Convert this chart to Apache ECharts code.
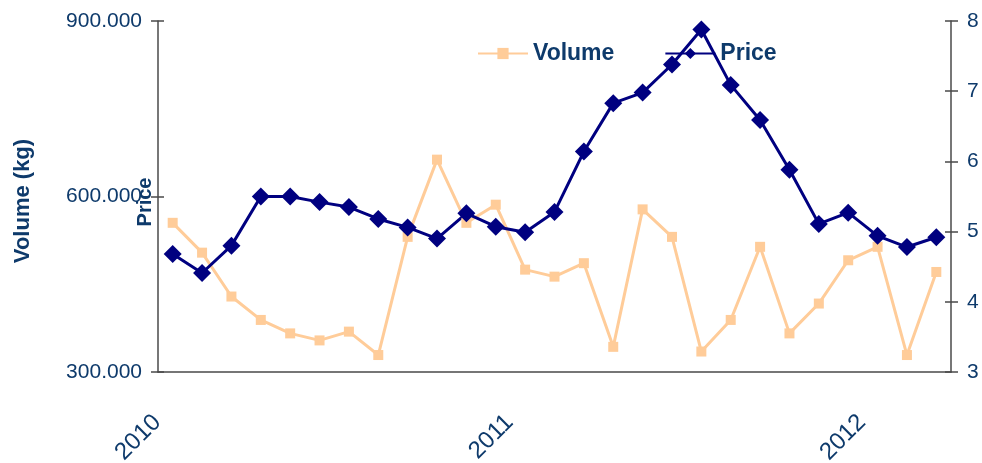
<!DOCTYPE html>
<html>
<head>
<meta charset="utf-8">
<style>
  html, body { margin: 0; padding: 0; background: #ffffff; }
  #chart { width: 982px; height: 463px; }
</style>
<script src="https://cdn.jsdelivr.net/npm/echarts@6/dist/echarts.min.js"></script>
</head>
<body>
<div id="chart"></div>
<script>
// Monthly observations, January 2010 to March 2012
const months = [
  '2010-01','2010-02','2010-03','2010-04','2010-05','2010-06','2010-07','2010-08','2010-09','2010-10','2010-11','2010-12',
  '2011-01','2011-02','2011-03','2011-04','2011-05','2011-06','2011-07','2011-08','2011-09','2011-10','2011-11','2011-12',
  '2012-01','2012-02','2012-03'
];

// Volume in kg (left axis)
const volume = [
  555000, 504000, 429000, 389000, 366000, 354000, 369000, 329000, 531000, 663000, 555000, 586000,
  475000, 463000, 486000, 343000, 578000, 531000, 335000, 389000, 514000, 366000, 417000, 491000,
  514000, 329000, 471000
];

// Price (right axis)
const price = [
  4.68, 4.41, 4.80, 5.50, 5.50, 5.42, 5.35, 5.18, 5.06, 4.90, 5.26, 5.07,
  4.99, 5.28, 6.14, 6.83, 6.98, 7.38, 7.88, 7.09, 6.59, 5.88, 5.11, 5.27,
  4.94, 4.78, 4.92
];

// Axis ranges and tick values
const volumeTicks = [300000, 600000, 900000];
const priceTicks = [3, 4, 5, 6, 7, 8];

const textColor = '#0E3A6B';
const axisColor = '#4a4a4a';
const fontFamily = '"Liberation Sans", Arial, sans-serif';

const chart = echarts.init(document.getElementById('chart'), null, { renderer: 'canvas' });

const baseY = (extra) => Object.assign({
  type: 'value',
  splitLine: { show: false },
  axisLine: { show: true, lineStyle: { color: axisColor, width: 1.5 } },
  axisTick: { show: true, length: 7, lineStyle: { color: axisColor, width: 1.5 } },
  axisLabel: { color: textColor, fontSize: 21, fontFamily: fontFamily, margin: 16 }
}, extra);

chart.setOption({
  animation: false,
  backgroundColor: '#ffffff',
  grid: { left: 158, right: 31, top: 21, bottom: 91, containLabel: false, outerBoundsMode: 'none' },
  legend: {
    data: ['Volume', 'Price'],
    left: 472,
    top: 37,
    itemWidth: 50,
    itemHeight: 14,
    itemGap: 50,
    textStyle: { color: textColor, fontSize: 23, fontWeight: 'bold', fontFamily: fontFamily, padding: [0, 0, 0, 0] }
  },
  xAxis: {
    type: 'category',
    data: months,
    boundaryGap: true,
    axisLine: { show: true, lineStyle: { color: axisColor, width: 1.5 } },
    axisTick: { show: false },
    axisLabel: {
      interval: (i) => i % 12 === 0,
      formatter: (v) => v.slice(0, 4),
      rotate: 45,
      margin: 31,
      padding: [0, 22, 0, 0],
      color: textColor,
      fontSize: 24,
      fontFamily: fontFamily
    }
  },
  yAxis: [
    baseY({
      position: 'left',
      min: volumeTicks[0],
      max: volumeTicks[volumeTicks.length - 1],
      interval: volumeTicks[1] - volumeTicks[0],
      axisLabel: {
        color: textColor, fontSize: 21, fontFamily: fontFamily, margin: 16,
        formatter: (v) => Math.round(v / 1000) + '.000'
      }
    }),
    baseY({
      position: 'right',
      min: priceTicks[0],
      max: priceTicks[priceTicks.length - 1],
      interval: 1
    }),
    // inner halves of the crossing tick marks
    baseY({
      position: 'left',
      min: volumeTicks[0],
      max: volumeTicks[volumeTicks.length - 1],
      interval: volumeTicks[1] - volumeTicks[0],
      axisLine: { show: false },
      axisTick: { show: true, inside: true, length: 6, lineStyle: { color: axisColor, width: 1.5 } },
      axisLabel: { show: false }
    }),
    baseY({
      position: 'right',
      min: priceTicks[0],
      max: priceTicks[priceTicks.length - 1],
      interval: 1,
      axisLine: { show: false },
      axisTick: { show: true, inside: true, length: 6, lineStyle: { color: axisColor, width: 1.5 } },
      axisLabel: { show: false }
    })
  ],
  graphic: [
    {
      type: 'text',
      x: 23, y: 201,
      rotation: Math.PI / 2,
      style: {
        text: 'Volume (kg)',
        fill: textColor,
        font: 'bold 22px "Liberation Sans", Arial, sans-serif',
        textAlign: 'center',
        textVerticalAlign: 'middle'
      }
    },
    {
      type: 'text',
      x: 145, y: 202,
      rotation: Math.PI / 2,
      z: 10,
      style: {
        text: 'Price',
        fill: textColor,
        font: 'bold 20px "Liberation Sans", Arial, sans-serif',
        textAlign: 'center',
        textVerticalAlign: 'middle'
      }
    }
  ],
  series: [
    {
      name: 'Volume',
      type: 'line',
      yAxisIndex: 0,
      data: volume,
      symbol: 'rect',
      symbolSize: 10,
      color: '#FFCC99',
      lineStyle: { color: '#FFCC99', width: 3 },
      itemStyle: { color: '#FFCC99' }
    },
    {
      name: 'Price',
      type: 'line',
      yAxisIndex: 1,
      data: price,
      symbol: 'diamond',
      symbolSize: 18,
      color: '#000080',
      lineStyle: { color: '#000080', width: 3 },
      itemStyle: { color: '#000080' }
    }
  ]
});
</script>
</body>
</html>
